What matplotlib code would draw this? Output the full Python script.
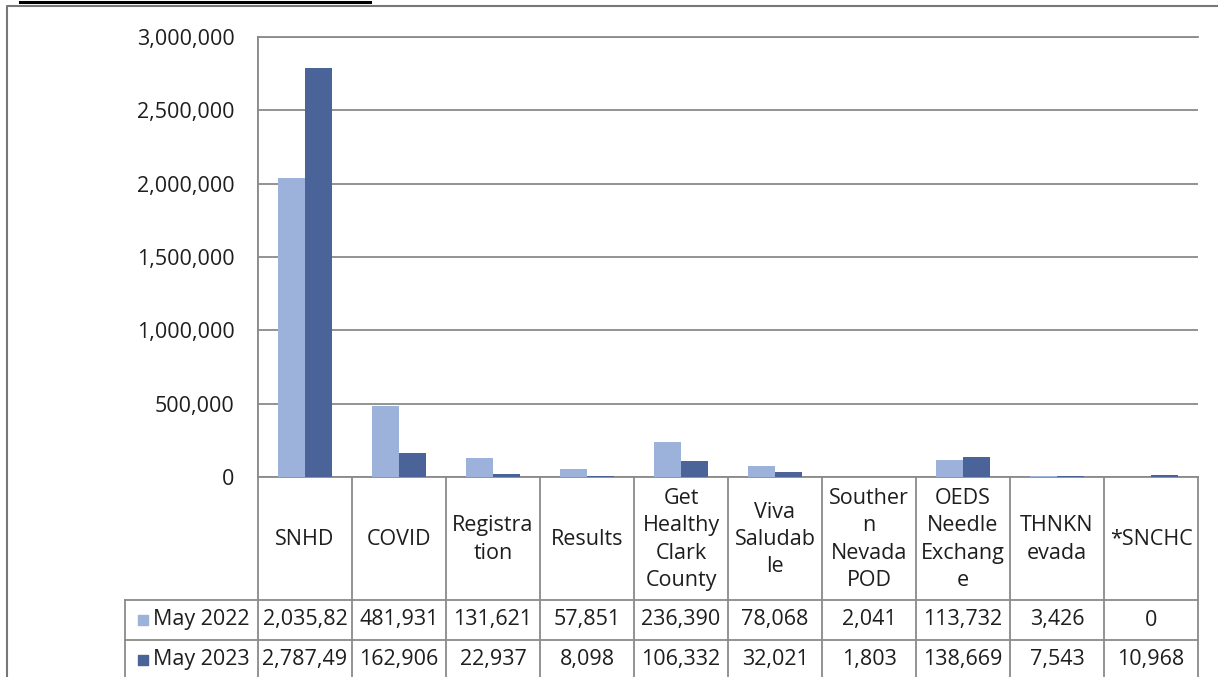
import matplotlib.pyplot as plt
from matplotlib.ticker import FuncFormatter

categories = ["SNHD", "COVID", "Registra\ntion", "Results", "Get\nHealthy\nClark\nCounty",
              "Viva\nSaludab\nle", "Souther\nn\nNevada\nPOD", "OEDS\nNeedle\nExchang\ne",
              "THNKN\nevada", "*SNCHC"]
series_names = ["May 2022", "May 2023"]
may_2022 = [2035820, 481931, 131621, 57851, 236390, 78068, 2041, 113732, 3426, 0]
may_2023 = [2787490, 162906, 22937, 8098, 106332, 32021, 1803, 138669, 7543, 10968]
y_ticks = [0, 500000, 1000000, 1500000, 2000000, 2500000, 3000000]

colors = ["#9db2db", "#4a6499"]
line_gray = "#8a8a8a"
text_color = "#1e1e1e"
font = "Open Sans"
fs = 15.5

W, H = 1218, 677
fig = plt.figure(figsize=(W / 100, H / 100), dpi=100)

# overlay in pixel coordinates for the frame and the data table
bg = fig.add_axes([0, 0, 1, 1])
bg.set_xlim(0, W)
bg.set_ylim(H, 0)
bg.axis("off")

# clipped title underline + outer frame
bg.plot([20, 370], [1.5, 1.5], color="black", lw=2.2)
bg.plot([7, 7, W], [H, 6, 6], color="#777777", lw=1.5)

# plot area
left, right, top, bottom = 258, 1198, 37, 477
ax = fig.add_axes([left / W, 1 - bottom / H, (right - left) / W, (bottom - top) / H])
n = len(categories)
bw = 0.287
xs = [i + 0.5 for i in range(n)]
ax.bar([x - bw / 2 for x in xs], may_2022, width=bw, color=colors[0], zorder=3)
ax.bar([x + bw / 2 for x in xs], may_2023, width=bw, color=colors[1], zorder=3)
ax.set_xlim(0, n)
ax.set_ylim(0, 3000000)
ax.set_yticks(y_ticks)
ax.yaxis.set_major_formatter(FuncFormatter(lambda v, p: f"{int(v):,}"))
ax.set_xticks([])
ax.tick_params(axis="y", length=0, pad=17, labelsize=fs, labelcolor=text_color)
for lab in ax.get_yticklabels():
    lab.set_fontfamily(font)
ax.grid(axis="y", color=line_gray, lw=1.3, zorder=0)
for s in ["top", "left", "bottom"]:
    ax.spines[s].set_color(line_gray)
    ax.spines[s].set_linewidth(1.3)
ax.spines["right"].set_visible(False)

# data table below the axis
col_w = (right - left) / n
row1, row2, row3 = 600, 640, 700
leg_left = 125
for i in range(n + 1):
    x = left + i * col_w
    y0 = top if i == 0 else bottom
    bg.plot([x, x], [y0, row3], color=line_gray, lw=1.3)
bg.plot([leg_left, leg_left], [row1, row3], color=line_gray, lw=1.3)
for y in [row1, row2]:
    bg.plot([leg_left, right], [y, y], color=line_gray, lw=1.3)

for i, name in enumerate(categories):
    cx = left + (i + 0.5) * col_w
    bg.text(cx, (bottom + row1) / 2 + 1, name, ha="center", va="center", fontsize=fs,
            family=font, color=text_color, linespacing=1.38)

rows = [may_2022, may_2023]
row_centers = [(row1 + row2) / 2, row2 + 20]
for r, (vals, yc) in enumerate(zip(rows, row_centers)):
    bg.scatter([143], [yc], marker="s", s=55, color=colors[r])
    bg.text(153, yc, series_names[r], ha="left", va="center", fontsize=fs,
            family=font, color=text_color)
    for i, v in enumerate(vals):
        label = f"{v:,}"[:8]  # cells too narrow for 7-digit numbers
        cx = left + (i + 0.5) * col_w
        bg.text(cx, yc, label, ha="center", va="center", fontsize=fs,
                family=font, color=text_color)

fig.savefig("out.png", dpi=100)
